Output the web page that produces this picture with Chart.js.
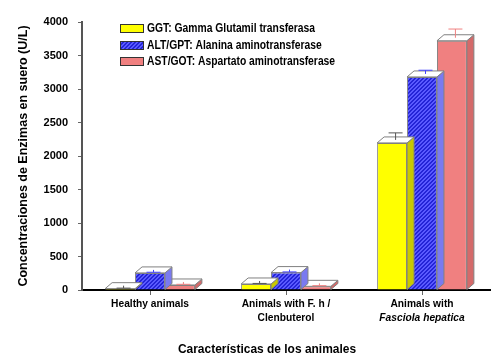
<!DOCTYPE html>
<html>
<head>
<meta charset="utf-8">
<script src="https://cdn.jsdelivr.net/npm/chart.js@4"></script>
<style>
  body { margin: 0; background: #fff; }
  #wrap { width: 500px; height: 360px; }
</style>
</head>
<body>
<div id="wrap"><canvas id="chart" width="500" height="360"></canvas></div>
<script>
// datos
const categories = [["Healthy animals"], ["Animals with F. h /", "Clenbuterol"], ["Animals with", "Fasciola hepatica"]];
const italicLines = ["Fasciola hepatica"];
const seriesNames = ["GGT: Gamma Glutamil transferasa", "ALT/GPT: Alanina aminotransferase", "AST/GOT: Aspartato aminotransferase"];
const ggt = [20, 90, 2195];
const alt = [255, 260, 3180];
const ast = [75, 55, 3720];
const ggtErr = [8, 8, 150];
const altErr = [10, 10, 100];
const astErr = [10, 10, 175];
const yMax = 4000;
const yStep = 500;

const FONT = "'Liberation Sans', Arial, sans-serif";

// patron rayado azul
function hatchPattern() {
  const c = document.createElement("canvas");
  c.width = 4; c.height = 4;
  const g = c.getContext("2d");
  for (let x = 0; x < 4; x++) {
    for (let y = 0; y < 4; y++) {
      g.fillStyle = ((x + y) % 4 < 2) ? "#2424d6" : "#5a5aff";
      g.fillRect(x, y, 1, 1);
    }
  }
  return g.createPattern(c, "repeat");
}

const ctx = document.getElementById("chart").getContext("2d");
const blue = hatchPattern();

const sideColors = ["#c8c800", "#7a7af0", "#d46a6a"];
const errColors = ["#555555", "#4040ff", "#f08080"];
const errors = [ggtErr, altErr, astErr];
const DX = 7, DY = 6;

// caras 3D y barras de error
const bars3d = {
  id: "bars3d",
  afterDatasetDraw(chart, args) {
    const c = chart.ctx;
    const i = args.index;
    const yScale = chart.scales.y;
    args.meta.data.forEach((bar, j) => {
      const p = bar.getProps(["x", "y", "base", "width"], true);
      const l = p.x - p.width / 2, r = p.x + p.width / 2;
      c.save();
      c.strokeStyle = "#808080";
      c.lineWidth = 1;
      // lateral
      c.beginPath();
      c.moveTo(r, p.y);
      c.lineTo(r + DX, p.y - DY);
      c.lineTo(r + DX, p.base - DY);
      c.lineTo(r, p.base);
      c.closePath();
      c.fillStyle = sideColors[i];
      c.fill();
      c.stroke();
      // superior
      c.beginPath();
      c.moveTo(l, p.y);
      c.lineTo(l + DX, p.y - DY);
      c.lineTo(r + DX, p.y - DY);
      c.lineTo(r, p.y);
      c.closePath();
      c.fillStyle = "#ffffff";
      c.fill();
      c.stroke();
      // error
      const v = chart.data.datasets[i].data[j];
      const ex = p.x + DX / 2;
      const ey = yScale.getPixelForValue(v + errors[i][j]);
      c.strokeStyle = errColors[i];
      c.beginPath();
      c.moveTo(ex, p.y - DY / 2);
      c.lineTo(ex, ey);
      c.moveTo(ex - 7, ey);
      c.lineTo(ex + 7, ey);
      c.stroke();
      c.restore();
    });
  }
};

// texto algo estrecho
function narrowText(c, t, x, y, sx) {
  c.save();
  c.translate(x, y);
  c.scale(sx, 1);
  c.fillText(t, 0, 0);
  c.restore();
}

// leyenda, etiquetas del eje x y titulo x
const extras = {
  id: "extras",
  afterDraw(chart) {
    const c = chart.ctx;
    const xs = chart.scales.x;
    const area = chart.chartArea;
    c.save();
    c.fillStyle = "#000";
    c.textAlign = "center";
    c.textBaseline = "middle";
    categories.forEach((lines, k) => {
      const x = xs.getPixelForValue(k);
      lines.forEach((t, n) => {
        const it = italicLines.includes(t) ? "italic " : "";
        c.font = it + "bold 11px " + FONT;
        narrowText(c, t, x, area.bottom + 14 + n * 14, 0.93);
      });
    });
    c.font = "bold 13px " + FONT;
    narrowText(c, "Características de los animales", 267, 349, 0.92);

    const rows = [28, 45, 61];
    c.textAlign = "left";
    c.font = "bold 12px " + FONT;
    chart.data.datasets.forEach((ds, k) => {
      c.fillStyle = ds.backgroundColor;
      c.fillRect(120.5, rows[k] - 4, 23, 8);
      c.strokeStyle = "#333";
      c.lineWidth = 1;
      c.strokeRect(120.5, rows[k] - 3.5, 23, 8);
      c.fillStyle = "#000";
      narrowText(c, ds.label, 147, rows[k] + 1, 0.86);
    });
    c.restore();
  }
};

new Chart(ctx, {
  type: "bar",
  data: {
    labels: categories,
    datasets: [
      { label: seriesNames[0], data: ggt, backgroundColor: "#ffff00" },
      { label: seriesNames[1], data: alt, backgroundColor: blue },
      { label: seriesNames[2], data: ast, backgroundColor: "#f08080" }
    ]
  },
  options: {
    responsive: false,
    animation: false,
    layout: { padding: { top: 22, right: 10, left: 0, bottom: 0 } },
    datasets: {
      bar: {
        categoryPercentage: 0.66,
        barPercentage: 1.0,
        borderColor: "#808080",
        borderWidth: 1
      }
    },
    plugins: {
      legend: { display: false },
      tooltip: { enabled: false }
    },
    scales: {
      x: {
        grid: { display: true, drawOnChartArea: false, offset: false, tickLength: 5, color: "#666" },
        border: { color: "#000", width: 2 },
        ticks: { display: false },
        afterFit(scale) { scale.height = 70; }
      },
      y: {
        min: 0,
        max: yMax,
        ticks: {
          stepSize: yStep,
          padding: 10,
          color: "#000",
          font: { family: FONT, size: 11, weight: "bold" },
          callback: (v) => String(v)
        },
        grid: { display: true, drawOnChartArea: false, tickLength: 4, color: "#666" },
        border: { color: "#555", width: 2 },
        title: {
          display: true,
          text: "Concentraciones de Enzimas en suero (U/L)",
          color: "#000",
          font: { family: FONT, size: 12.5, weight: "bold" },
          padding: { top: 16, bottom: 0 }
        },
        afterFit(scale) { scale.width = 82; }
      }
    }
  },
  plugins: [bars3d, extras]
});
</script>
</body>
</html>
